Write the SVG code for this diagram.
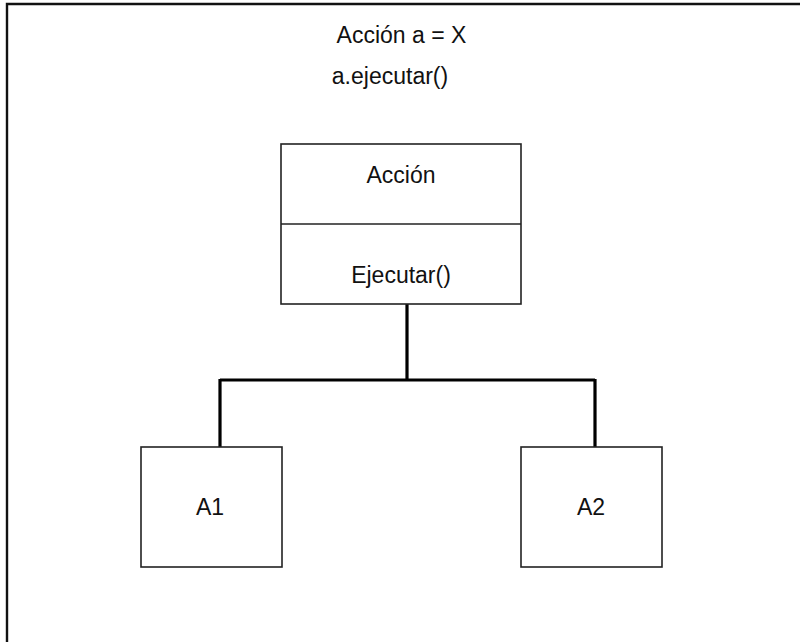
<svg xmlns="http://www.w3.org/2000/svg" width="800" height="642" viewBox="0 0 800 642">
<style>
.box{fill:#fff;stroke:#222;stroke-width:1.6}
.t{font-family:"Liberation Sans",Arial,sans-serif;font-size:23px;fill:#111;text-anchor:middle}
.conn{fill:none;stroke:#000;stroke-width:3.2}
</style>
<rect width="800" height="642" fill="#fff"/>
<path d="M7,642 V4 H800" fill="none" stroke="#111" stroke-width="2.4"/>
<g id="header">
<text class="t" x="401.5" y="43">Acción a = X</text>
<text class="t" x="390" y="84">a.ejecutar()</text>
</g>
<g id="connectors">
<path class="conn" d="M407,304 V380 M220,380 H595 M220,379 V455 M595,379 V455"/>
</g>
<g id="accion">
<rect class="box" x="281" y="144" width="240" height="160"/>
<line x1="281" y1="224" x2="521" y2="224" stroke="#222" stroke-width="1.6"/>
<text class="t" x="401" y="183">Acción</text>
<text class="t" x="401" y="283">Ejecutar()</text>
</g>
<g id="a1">
<rect class="box" x="141" y="447" width="141" height="120" fill="none"/>
<text class="t" x="210" y="515">A1</text>
</g>
<g id="a2">
<rect class="box" x="521" y="447" width="141" height="120" fill="none"/>
<text class="t" x="591" y="515">A2</text>
</g>
</svg>
